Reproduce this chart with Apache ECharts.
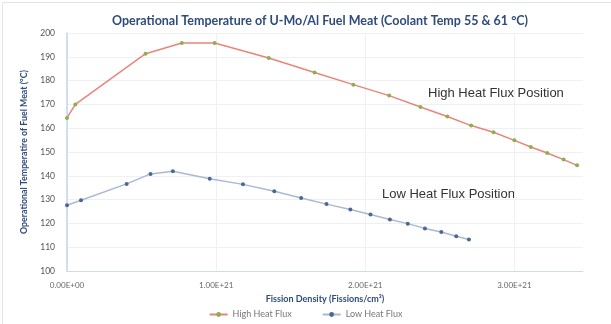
<!DOCTYPE html>
<html>
<head>
<meta charset="utf-8">
<script src="https://cdn.jsdelivr.net/npm/echarts@6/dist/echarts.min.js"></script>
<style>
  html, body { margin: 0; padding: 0; background: #fff; }
  #chart { width: 611px; height: 324px; }
</style>
</head>
<body>
<div id="chart"></div>
<script>
// fission density (x1e21 fissions/cm3) and temperature (°C)
var highX = [0, 0.056, 0.527, 0.77, 0.99, 1.353, 1.66, 1.92, 2.16, 2.37, 2.55, 2.71, 2.86, 3.0, 3.11, 3.22, 3.33, 3.42];
var highY = [164.3, 170, 191.3, 195.8, 195.8, 189.5, 183.4, 178.3, 173.7, 168.9, 164.9, 161.1, 158.3, 154.9, 152.1, 149.6, 146.8, 144.4];
var lowX = [0, 0.094, 0.40, 0.56, 0.71, 0.957, 1.18, 1.39, 1.57, 1.74, 1.90, 2.035, 2.165, 2.285, 2.40, 2.51, 2.61, 2.695];
var lowY = [127.6, 129.7, 136.6, 140.8, 141.9, 138.8, 136.4, 133.5, 130.7, 128.1, 125.8, 123.7, 121.6, 119.9, 117.9, 116.4, 114.6, 113.2];
var yTicks = [100, 110, 120, 130, 140, 150, 160, 170, 180, 190, 200];
var seriesNames = ['High Heat Flux', 'Low Heat Flux'];

var E21 = 1e21;
function pairs(xs, ys) {
    var out = [];
    for (var i = 0; i < xs.length; i++) {
        out.push([xs[i] * E21, ys[i]]);
    }
    return out;
}
function sci(v) {
    if (Math.abs(v % E21) > 1e15) return '';
    if (v === 0) return '0.00E+00';
    return v.toExponential(2).toUpperCase();
}

var chart = echarts.init(document.getElementById('chart'));
var option = {
    animation: false,
    backgroundColor: '#fff',
    title: {
        text: 'Operational Temperature of U-Mo/Al Fuel Meat (Coolant Temp 55 & 61 \u00B0C)',
        left: 315,
        textAlign: 'center',
        top: 9,
        textStyle: { fontFamily: 'Lato', fontSize: 12.5, fontWeight: 'bold', color: '#2f4b7c' }
    },
    legend: {
        data: seriesNames,
        bottom: 0,
        left: 'center',
        itemWidth: 18,
        itemHeight: 6,
        itemGap: 30,
        textStyle: { fontFamily: 'Lato', fontSize: 9, color: '#777' }
    },
    grid: { left: 67, right: 28, top: 33, bottom: 53 },
    xAxis: {
        type: 'value',
        min: 0,
        max: 3.46 * E21,
        interval: E21,
        name: 'Fission Density (Fissions/cm\u00B3)',
        nameLocation: 'middle',
        nameGap: 24,
        nameTextStyle: { fontFamily: 'Lato', fontSize: 9, fontWeight: 'bold', color: '#2f4b7c' },
        axisLine: { lineStyle: { color: '#d5dbe6' } },
        axisTick: { show: false },
        axisLabel: { formatter: sci, fontFamily: 'Lato', fontSize: 8, color: '#666', margin: 10 },
        splitLine: { showMaxLine: false, lineStyle: { color: '#eef0f4' } }
    },
    yAxis: {
        type: 'value',
        min: yTicks[0],
        max: yTicks[yTicks.length - 1],
        interval: 10,
        name: 'Operational Temperatire of Fuel Meat (\u00B0C)',
        nameLocation: 'middle',
        nameGap: 38,
        nameTextStyle: { fontFamily: 'Lato', fontSize: 8.8, fontWeight: 'bold', color: '#2f4b7c' },
        axisLine: { show: true, lineStyle: { color: '#c5d5ee', width: 1.5 } },
        axisTick: { show: false },
        axisLabel: { fontFamily: 'Lato', fontSize: 8.5, color: '#555', margin: 12 },
        splitLine: { lineStyle: { color: '#eef0f4' } }
    },
    graphic: [
        { type: 'text', left: 428, top: 87, style: { text: 'High Heat Flux Position', fontFamily: 'Liberation Sans', fontSize: 13, fill: '#333' } },
        { type: 'text', left: 382, top: 188, style: { text: 'Low Heat Flux Position', fontFamily: 'Liberation Sans', fontSize: 13, fill: '#333' } },
        { type: 'rect', left: 0, top: 0, shape: { width: 610, height: 323 }, style: { fill: 'none', stroke: '#e4e4e4', lineWidth: 1 }, silent: true }
    ],
    series: [
        {
            name: seriesNames[0],
            type: 'line',
            data: pairs(highX, highY),
            symbol: 'circle',
            symbolSize: 4,
            lineStyle: { color: '#e8857a', width: 1.5 },
            itemStyle: { color: '#8fae4e', borderWidth: 0 },
            color: '#ee9a66'
        },
        {
            name: seriesNames[1],
            type: 'line',
            data: pairs(lowX, lowY),
            symbol: 'circle',
            symbolSize: 4,
            lineStyle: { color: '#aab9d2', width: 1.5 },
            itemStyle: { color: '#4a6797', borderWidth: 0 },
            color: '#6b87b5'
        }
    ]
};
chart.setOption(option);
</script>
</body>
</html>
